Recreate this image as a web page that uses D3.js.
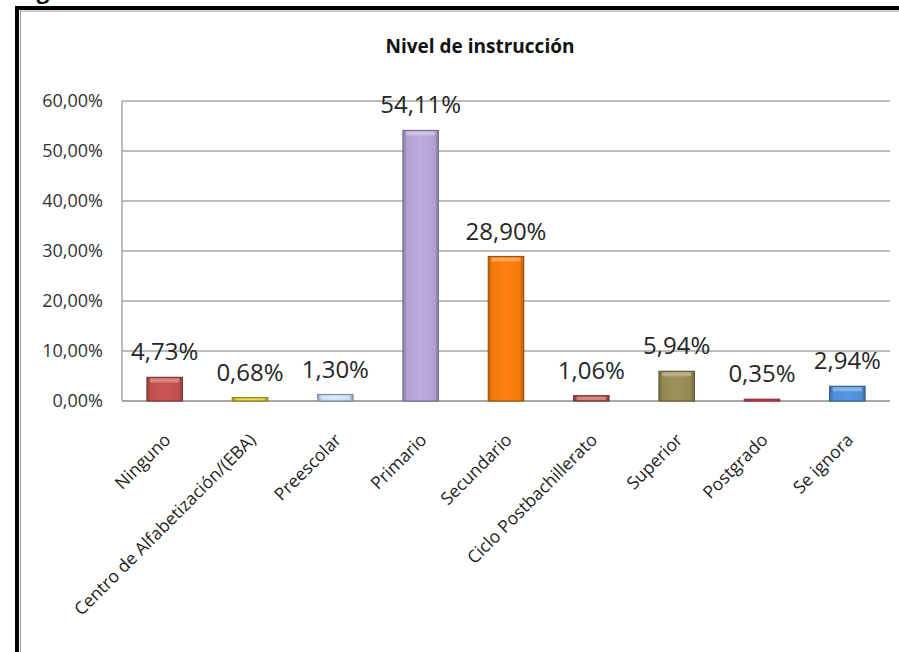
<!DOCTYPE html>
<html>
<head>
<meta charset="utf-8">
<script src="https://cdn.jsdelivr.net/npm/d3@7"></script>
<style>
  body { margin: 0; background: #fff; }
  svg { display: block; }
</style>
</head>
<body>
<div id="chart"></div>
<script>
// data
var categories = ["Ninguno", "Centro de Alfabetización/(EBA)", "Preescolar", "Primario",
    "Secundario", "Ciclo Postbachillerato", "Superior", "Postgrado", "Se ignora"];
var values = [4.73, 0.68, 1.30, 54.11, 28.90, 1.06, 5.94, 0.35, 2.94];
var valueLabels = ["4,73%", "0,68%", "1,30%", "54,11%", "28,90%", "1,06%", "5,94%", "0,35%", "2,94%"];
var yTicks = [0, 10, 20, 30, 40, 50, 60];
var barColors = ["#c0504d", "#d8c62a", "#bcd5ee", "#b3a2d2", "#f27a0c", "#b9504c", "#948a54", "#d9414f", "#4f8fd8"];
var chartTitle = "Nivel de instrucción";

var W = 899, H = 652;
var margin = { top: 101, right: 9, bottom: 251, left: 122 },
    width = W - margin.left - margin.right,
    height = H - margin.top - margin.bottom;

var svg = d3.select("#chart")
    .append("svg")
    .attr("width", W)
    .attr("height", H);

svg.append("rect").attr("width", W).attr("height", H).attr("fill", "#fff");

// cut caption of the page above (only descenders visible)
svg.append("text")
    .attr("x", 18).attr("y", -1)
    .style("font-family", "'Open Sans', sans-serif")
    .style("font-weight", "bold")
    .style("font-size", "22px")
    .attr("fill", "#111")
    .text("Figura");

// frame
svg.append("path")
    .attr("d", "M17," + (H + 10) + "V8H" + (W + 10))
    .attr("fill", "none").attr("stroke", "#000").attr("stroke-width", 4);
svg.append("path")
    .attr("d", "M20.5," + (H + 10) + "V11H" + (W + 10))
    .attr("fill", "none").attr("stroke", "#9a9a9a").attr("stroke-width", 1);

var defs = svg.append("defs");

var g = svg.append("g")
    .attr("transform", "translate(" + margin.left + "," + margin.top + ")");

var x = d3.scaleBand()
    .domain(categories)
    .range([0, width])
    .paddingInner(0.585)
    .paddingOuter(0.2925);

var y = d3.scaleLinear()
    .domain([0, 60])
    .range([height, 0]);

// title
svg.append("text")
    .attr("x", 480).attr("y", 53)
    .attr("text-anchor", "middle")
    .style("font-family", "'Open Sans', sans-serif")
    .style("font-weight", "bold")
    .style("font-size", "19px")
    .attr("fill", "#111")
    .text(chartTitle);

// grid lines
g.selectAll(".grid")
    .data(yTicks)
    .join("line")
    .attr("class", "grid")
    .attr("x1", 0).attr("x2", width)
    .attr("y1", d => y(d)).attr("y2", d => y(d))
    .attr("stroke", d => d === 0 ? "#8c8c8c" : "#a6a6a6")
    .attr("stroke-width", 1.5);

g.append("line")
    .attr("x1", 0).attr("x2", 0)
    .attr("y1", 0).attr("y2", height)
    .attr("stroke", "#a6a6a6").attr("stroke-width", 1.5);

// y axis labels
var yAxis = g.append("g")
    .call(d3.axisLeft(y).tickValues(yTicks).tickSize(0).tickPadding(19)
        .tickFormat(d => d3.format(".2f")(d).replace(".", ",") + "%"));
yAxis.select(".domain").remove();
yAxis.selectAll("text")
    .style("font-family", "'Open Sans', sans-serif")
    .style("font-size", "18px")
    .attr("fill", "#333");

// gradients for bevelled bars
barColors.forEach(function (c, i) {
    var base = d3.color(c);
    var grad = defs.append("linearGradient")
        .attr("id", "grad" + i)
        .attr("x1", "0").attr("x2", "1").attr("y1", "0").attr("y2", "0");
    grad.append("stop").attr("offset", "0").attr("stop-color", base.darker(0.7));
    grad.append("stop").attr("offset", "0.12").attr("stop-color", base);
    grad.append("stop").attr("offset", "0.5").attr("stop-color", base.brighter(0.15));
    grad.append("stop").attr("offset", "0.88").attr("stop-color", base);
    grad.append("stop").attr("offset", "1").attr("stop-color", base.darker(0.7));
});

var data = categories.map((c, i) => ({ cat: c, value: values[i], label: valueLabels[i], idx: i }));

g.selectAll(".bar")
    .data(data)
    .join("rect")
    .attr("class", "bar")
    .attr("x", d => x(d.cat))
    .attr("y", d => y(d.value))
    .attr("width", x.bandwidth())
    .attr("height", d => height - y(d.value))
    .attr("fill", d => "url(#grad" + d.idx + ")")
    .attr("stroke", d => d3.color(barColors[d.idx]).darker(1.1))
    .attr("stroke-width", 1.2);

// top highlight of the bevel
g.selectAll(".hl")
    .data(data)
    .join("rect")
    .attr("class", "hl")
    .attr("x", d => x(d.cat) + 3)
    .attr("y", d => y(d.value) + 1)
    .attr("width", x.bandwidth() - 6)
    .attr("height", d => Math.min(4, Math.max(0, height - y(d.value) - 2)))
    .attr("fill", "#fff")
    .attr("opacity", 0.3);

// value labels
g.selectAll(".vlabel")
    .data(data)
    .join("text")
    .attr("class", "vlabel")
    .attr("x", d => x(d.cat) + x.bandwidth() / 2)
    .attr("y", d => y(d.value) - 17)
    .attr("text-anchor", "middle")
    .style("font-family", "'Open Sans', sans-serif")
    .style("font-size", "24px")
    .attr("fill", "#262626")
    .text(d => d.label);

// category labels
g.selectAll(".clabel")
    .data(data)
    .join("text")
    .attr("class", "clabel")
    .attr("transform", d => "translate(" + (x(d.cat) + x.bandwidth() / 2 + 7) + "," + (height + 40) + ")rotate(-45)")
    .attr("text-anchor", "end")
    .style("font-family", "'Open Sans', sans-serif")
    .style("font-size", "17.5px")
    .attr("fill", "#1e1e1e")
    .text(d => d.cat);
</script>
</body>
</html>
